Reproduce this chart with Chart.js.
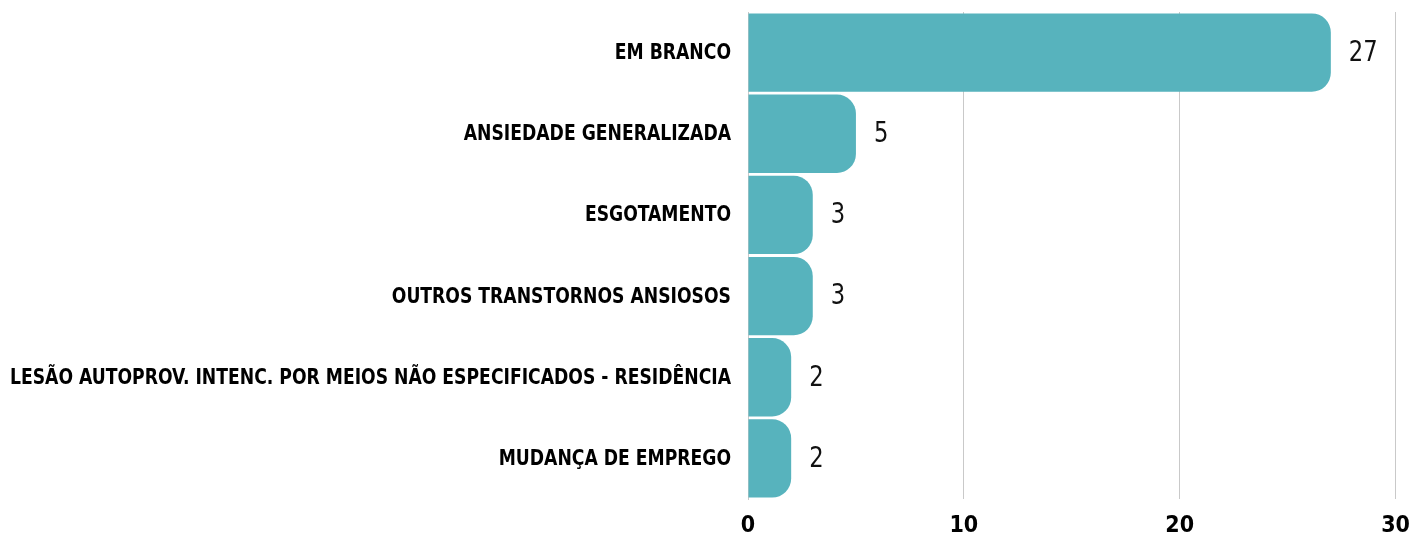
<!DOCTYPE html>
<html>
<head>
<meta charset="utf-8">
<script src="https://cdn.jsdelivr.net/npm/chart.js@4/dist/chart.umd.min.js"></script>
<style>
  html, body { margin: 0; padding: 0; background: #fff; }
  #wrap { width: 1410px; height: 538px; position: relative; }
</style>
</head>
<body>
<div id="wrap"><canvas id="causeChart"></canvas></div>
<script>
var categories = [
  "EM BRANCO",
  "ANSIEDADE GENERALIZADA",
  "ESGOTAMENTO",
  "OUTROS TRANSTORNOS ANSIOSOS",
  "LESÃO AUTOPROV. INTENC. POR MEIOS NÃO ESPECIFICADOS - RESIDÊNCIA",
  "MUDANÇA DE EMPREGO"
];
var counts = [27, 5, 3, 3, 2, 2];
var x_ticks = [0, 10, 20, 30];

var cond = '"DejaVu Sans Condensed", "DejaVu Sans", sans-serif';
var bar_color = "#57b3bd";
var grid_color = "#c9c9c9";
var label_gap = 17; // space between category labels and the zero line
var label_room = 721; // widest category label gets squeezed into this

// category names, drawn narrow so the long one fits left of the bars
const categoryLabels = {
  id: "categoryLabels",
  afterDraw(chart) {
    const ctx = chart.ctx;
    const ys = chart.scales.y;
    const left = chart.chartArea.left - label_gap;
    ctx.save();
    ctx.font = "bold 21px " + cond;
    ctx.fillStyle = "#000";
    ctx.textAlign = "right";
    ctx.textBaseline = "middle";
    let widest = 0;
    chart.data.labels.forEach((t) => {
      widest = Math.max(widest, ctx.measureText(t).width);
    });
    const sx = Math.min(1, label_room / widest);
    chart.data.labels.forEach((t, i) => {
      ctx.save();
      ctx.translate(left, ys.getPixelForValue(i) + 1);
      ctx.scale(sx, 1);
      ctx.fillText(t, 0, 0);
      ctx.restore();
    });
    ctx.restore();
  },
};

// writes the count just past the end of each bar
const valueLabels = {
  id: "valueLabels",
  afterDatasetsDraw(chart) {
    const ctx = chart.ctx;
    const xs = chart.scales.x;
    const meta = chart.getDatasetMeta(0);
    ctx.save();
    ctx.font = "28px " + cond;
    ctx.fillStyle = "#111";
    ctx.textAlign = "left";
    ctx.textBaseline = "middle";
    meta.data.forEach((bar, i) => {
      const v = chart.data.datasets[0].data[i];
      ctx.save();
      ctx.translate(xs.getPixelForValue(v) + 18, bar.y + 1);
      ctx.scale(0.9, 1);
      ctx.fillText(String(v), 0, 0);
      ctx.restore();
    });
    ctx.restore();
  },
};

function init_chart() {
  var ctx = document.getElementById("causeChart").getContext("2d");
  new Chart(ctx, {
    type: "bar",
    data: {
      labels: categories,
      datasets: [
        {
          data: counts,
          backgroundColor: bar_color,
          borderWidth: 0,
          borderRadius: { topRight: 19, bottomRight: 19 },
          borderSkipped: "start",
          barPercentage: 0.965,
          categoryPercentage: 1,
        },
      ],
    },
    options: {
      indexAxis: "y",
      responsive: true,
      maintainAspectRatio: false,
      animation: false,
      layout: { padding: { top: 12, right: 13, left: 0, bottom: 0 } },
      plugins: {
        legend: { display: false },
        tooltip: { enabled: false },
      },
      scales: {
        x: {
          min: 0,
          max: 30,
          afterBuildTicks: (scale) => {
            scale.ticks = x_ticks.map((v) => ({ value: v }));
          },
          grid: {
            color: (c) => (c.tick && c.tick.value === 0 ? "rgba(0,0,0,0)" : grid_color),
            lineWidth: 1,
            drawTicks: true,
            tickLength: 16,
            tickColor: "rgba(0,0,0,0)",
          },
          border: { display: false },
          ticks: {
            color: "#000",
            padding: 0,
            font: { family: cond, size: 23, weight: "bold", lineHeight: 1 },
          },
        },
        y: {
          afterFit: (scale) => {
            scale.width = 748;
          },
          grid: { display: false, drawTicks: false },
          border: { display: true, color: grid_color, width: 1 },
          ticks: { display: false },
        },
      },
    },
    plugins: [valueLabels, categoryLabels],
  });
}

window.addEventListener("DOMContentLoaded", init_chart);
</script>
</body>
</html>
